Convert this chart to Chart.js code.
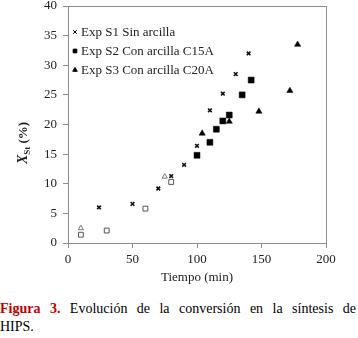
<!DOCTYPE html>
<html>
<head>
<meta charset="utf-8">
<script src="https://cdn.jsdelivr.net/npm/chart.js@4/dist/chart.umd.min.js"></script>
<style>
  body { margin: 0; background: #fff; }
  #wrap { position: relative; width: 358px; height: 338px; }
  canvas { position: absolute; left: 0; top: 0; }
  .cap { position: absolute; left: 0; width: 356px; font-family: "Times New Roman", "Liberation Serif", "DejaVu Serif", serif; font-size: 14px; color: #000; line-height: 18px; }
  .l1 { top: 300px; text-align: justify; text-align-last: justify; }
  .l2 { top: 318px; }
  .fig { color: #c00000; font-weight: bold; }
</style>
</head>
<body>
<div id="wrap">
  <canvas id="myChart" width="358" height="292"></canvas>
  <div class="cap l1"><span class="fig">Figura 3.</span> Evolución de la conversión en la síntesis de</div>
  <div class="cap l2">HIPS.</div>
</div>
<script>
'use strict'

// === DATA ===
const seriesNames = ['Exp S1 Sin arcilla', 'Exp S2 Con arcilla C15A', 'Exp S3 Con arcilla C20A']

const s1Time = [24, 50, 70, 80, 90, 100, 110, 120, 130, 140]
const s1Conv = [6.0, 6.6, 9.2, 11.3, 13.2, 16.4, 22.4, 25.2, 28.5, 32.0]

const s2Time = [100, 110, 115, 120, 125, 135, 142]
const s2Conv = [14.8, 17.0, 19.2, 20.6, 21.6, 25.0, 27.5]
// early samples of S2, drawn hollow
const s2EarlyTime = [10, 30, 60, 80]
const s2EarlyConv = [1.4, 2.1, 5.8, 10.3]

const s3Time = [104, 125, 148, 172, 178]
const s3Conv = [18.5, 20.5, 22.2, 25.7, 33.5]
// early samples of S3, drawn hollow
const s3EarlyTime = [10, 75]
const s3EarlyConv = [2.5, 11.2]

const xTicks = [0, 50, 100, 150, 200]
const yTicks = [0, 5, 10, 15, 20, 25, 30, 35, 40]

const toXY = (xs, ys) => xs.map((x, i) => ({ x: x, y: ys[i] }))

const serif = '"Times New Roman", "Liberation Serif", "DejaVu Serif", serif'
const axisGray = '#8c8c8c'

// === CUSTOM DRAWING: box, legend inside plot, axis titles ===
const extras = {
  id: 'extras',
  afterDraw(chart) {
    const ctx = chart.ctx
    const a = chart.chartArea
    ctx.save()
    ctx.strokeStyle = axisGray
    ctx.lineWidth = 1
    ctx.strokeRect(Math.round(a.left) + 0.5, Math.round(a.top) + 0.5,
      Math.round(a.right - a.left), Math.round(a.bottom - a.top))

    // legend
    ctx.font = '13px ' + serif
    ctx.textBaseline = 'middle'
    const legendDs = [0, 1, 2]
    legendDs.forEach((di, i) => {
      const ds = chart.data.datasets[di]
      const y = a.top + 26 + i * 19
      ctx.strokeStyle = '#000'
      ctx.fillStyle = '#000'
      Chart.helpers.drawPoint(ctx, {
        pointStyle: ds.pointStyle, radius: 2.6, borderWidth: 1
      }, a.left + 7, y)
      ctx.fillStyle = '#222'
      ctx.textAlign = 'left'
      ctx.fillText(seriesNames[di], a.left + 13, y + 1)
    })

    // x title
    ctx.textAlign = 'center'
    ctx.font = '13px ' + serif
    ctx.fillStyle = '#222'
    ctx.fillText('Tiempo (min)', (a.left + a.right) / 2, 278)

    // y title with subscript
    ctx.translate(22, 143)
    ctx.rotate(-Math.PI / 2)
    const partX = 'X', partSub = 'St', partRest = ' (%)'
    ctx.font = 'italic bold 14px ' + serif
    const wX = ctx.measureText(partX).width
    ctx.font = 'bold 9px ' + serif
    const wSub = ctx.measureText(partSub).width
    ctx.font = 'bold 13px ' + serif
    const wRest = ctx.measureText(partRest).width
    let cx = -(wX + wSub + wRest) / 2
    ctx.textAlign = 'left'
    ctx.textBaseline = 'alphabetic'
    ctx.font = 'italic bold 14px ' + serif
    ctx.fillText(partX, cx, 5)
    cx += wX
    ctx.font = 'bold 9px ' + serif
    ctx.fillText(partSub, cx, 8)
    cx += wSub
    ctx.font = 'bold 13px ' + serif
    ctx.fillText(partRest, cx, 5)
    ctx.restore()
  }
}

const ctx = document.getElementById('myChart')
const myChart = new Chart(ctx, {
  type: 'scatter',
  data: {
    datasets: [
      {
        label: seriesNames[0],
        data: toXY(s1Time, s1Conv),
        pointStyle: 'crossRot',
        pointRadius: 2.6,
        borderColor: '#111',
        backgroundColor: '#111',
        borderWidth: 1.6
      },
      {
        label: seriesNames[1],
        data: toXY(s2Time, s2Conv),
        pointStyle: 'rect',
        pointRadius: 4.2,
        borderColor: '#000',
        backgroundColor: '#000',
        borderWidth: 0.5
      },
      {
        label: seriesNames[2],
        data: toXY(s3Time, s3Conv),
        pointStyle: 'triangle',
        pointRadius: 3.6,
        borderColor: '#000',
        backgroundColor: '#000',
        borderWidth: 0.5
      },
      {
        label: 'S2 early',
        data: toXY(s2EarlyTime, s2EarlyConv),
        pointStyle: 'rect',
        pointRadius: 3.4,
        borderColor: '#555',
        backgroundColor: '#fff',
        borderWidth: 1
      },
      {
        label: 'S3 early',
        data: toXY(s3EarlyTime, s3EarlyConv),
        pointStyle: 'triangle',
        pointRadius: 3,
        borderColor: '#777',
        backgroundColor: '#fff',
        borderWidth: 1
      }
    ]
  },
  options: {
    responsive: false,
    animation: false,
    layout: { padding: { top: 6, right: 32, left: 0, bottom: 0 } },
    plugins: {
      legend: { display: false },
      tooltip: { enabled: false }
    },
    scales: {
      x: {
        type: 'linear',
        min: 0,
        max: 200,
        afterBuildTicks: (s) => { s.ticks = xTicks.map(v => ({ value: v })) },
        afterFit: (s) => { s.height = 49; s.paddingLeft = 0; s.paddingRight = 0 },
        grid: { drawOnChartArea: false, drawTicks: true, tickLength: 5, color: axisGray },
        border: { color: axisGray },
        ticks: { color: '#222', padding: 4, maxRotation: 0, font: { family: serif, size: 13 } }
      },
      y: {
        type: 'linear',
        min: 0,
        max: 40,
        afterBuildTicks: (s) => { s.ticks = yTicks.map(v => ({ value: v })) },
        afterFit: (s) => { s.width = 68; s.paddingTop = 0; s.paddingBottom = 0 },
        grid: { drawOnChartArea: false, drawTicks: true, tickLength: 5, color: axisGray },
        border: { color: axisGray },
        ticks: { color: '#222', padding: 6, font: { family: serif, size: 13 } }
      }
    }
  },
  plugins: [extras]
})
</script>
</body>
</html>
